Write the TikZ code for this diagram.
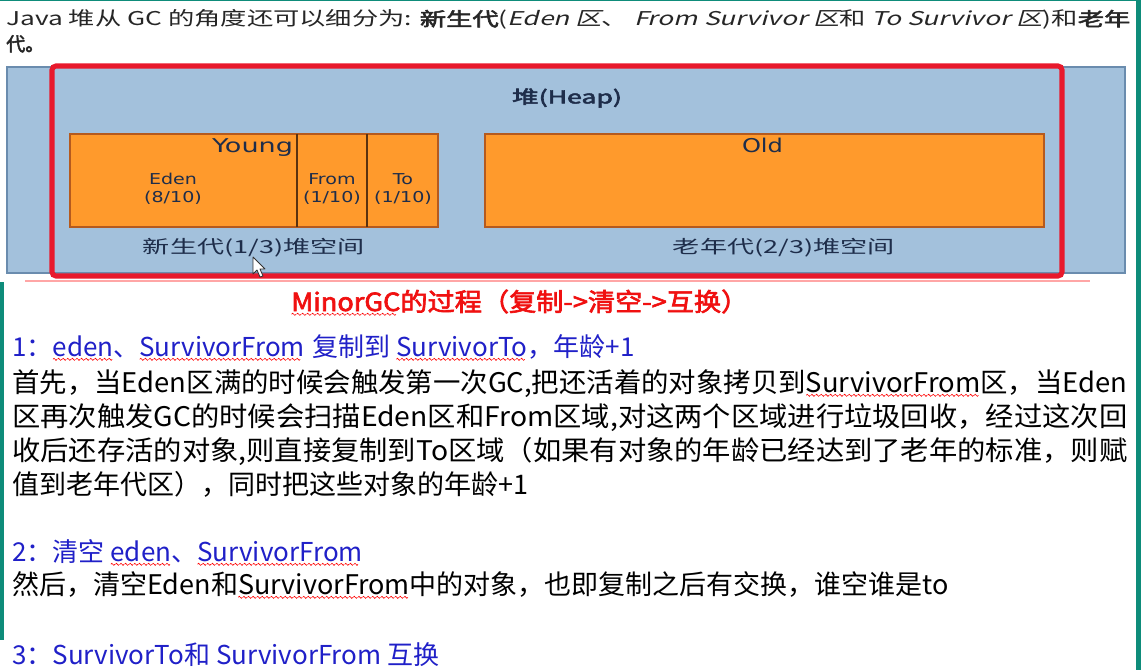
\documentclass[tikz,border=0pt]{standalone}
\usepackage{fontspec}
\usepackage{graphicx}
\setmainfont{Noto Sans CJK SC}[AutoFakeBold=2.5,AutoFakeSlant=0.2]
\newfontfamily\latinlbl{DejaVu Sans}[FakeStretch=1.27]
\definecolor{heapblue}{HTML}{A3C1DC}
\definecolor{heapedge}{HTML}{6A8CAE}
\definecolor{orng}{HTML}{FF9A2C}
\definecolor{orngedge}{HTML}{B55A1E}
\definecolor{divider}{HTML}{5A3210}
\definecolor{navy}{HTML}{1E2D4A}
\definecolor{redbox}{HTML}{E8192C}
\definecolor{bluetxt}{HTML}{2020C8}
\definecolor{redtxt}{HTML}{F01010}
\definecolor{tealbar}{HTML}{0E8C7A}
\newcommand\pxsize[1]{\fontsize{\dimexpr#1pt*3/4\relax}{\dimexpr#1pt*3/4\relax}\selectfont}
\newcommand\fitw[2]{\resizebox{\dimexpr#1pt*3/4\relax}{\height}{#2}}
\newsavebox\wavebox
\newcommand\rwave[1]{\setbox0\hbox{#1}\rlap{\raisebox{-3.5pt}{\leaders\copy\wavebox\hskip\wd0}}\box0}
\tikzset{
  heap/.style={fill=heapblue,draw=heapedge,line width=1.1pt},
  gen/.style={fill=orng,draw=orngedge,line width=1.1pt},
  lbl/.style={text=navy,inner sep=0pt},
  cell/.style={text=navy,inner sep=0pt,align=center,font=\latinlbl\pxsize{15}},
  para/.style={anchor=base west,inner sep=0pt,text=black},
  bluehead/.style={anchor=base west,inner sep=0pt,text=bluetxt},
}
\begin{document}
\sbox\wavebox{\begin{pgfpicture}\pgfsetlinewidth{0.45pt}\pgfsetstrokecolor{red}%
\pgfpathmoveto{\pgfpoint{0pt}{0pt}}%
\pgfpathsine{\pgfpoint{0.75pt}{0.8pt}}%
\pgfpathcosine{\pgfpoint{0.75pt}{-0.8pt}}%
\pgfpathsine{\pgfpoint{0.75pt}{-0.8pt}}%
\pgfpathcosine{\pgfpoint{0.75pt}{0.8pt}}%
\pgfusepath{stroke}\end{pgfpicture}}%
\begin{tikzpicture}[x=0.75pt,y=-0.75pt]
\useasboundingbox (0,0) rectangle (1141,670);
\fill[white] (0,0) rectangle (1141,670);
% window edges
\fill[tealbar] (0,0) rectangle (1141,1.2);
\fill[tealbar] (0,282) rectangle (3.5,640);
\fill[tealbar] (1136,0) rectangle (1141,670);
\draw[red!35,line width=0.8pt] (25,281) -- (1090,281);
% top text
\node[para,text=black!85] (intro1) at (6,26) {\pxsize{19}\fitw{1124}{Java 堆从 GC 的角度还可以细分为: \textbf{新生代}(\textit{Eden 区}、 \textit{From Survivor 区}和 \textit{To Survivor 区})和\textbf{老年}}};
\node[para,text=black!85] (intro2) at (6,51) {\pxsize{19}\textbf{代。}};
% heap
\draw[heap] (7,67) rectangle (1125,273);
\draw[redbox,line width=3.8pt,rounded corners=3pt] (52,66) rectangle (1062,276);
\draw[gen] (70,134) rectangle (438,227);
\draw[gen] (485,134) rectangle (1044,227);
\draw[divider,line width=1.8pt] (297,134) -- (297,227);
\draw[divider,line width=1.8pt] (367,134) -- (367,227);
\node[lbl] (heaplbl) at (567,98) {\pxsize{18}\fitw{110}{\textbf{堆(Heap)}}};
\node[lbl,anchor=base] (young) at (252.5,153) {\latinlbl\pxsize{19}\fitw{81}{Young}};
\node[cell] (eden) at (173,189) {Eden\\[2pt](8/10)};
\node[cell] (from) at (332,189) {From\\[2pt](1/10)};
\node[cell] (to) at (403,189) {To\\[2pt](1/10)};
\node[lbl,anchor=base] (old) at (762.5,153) {\latinlbl\pxsize{19}\fitw{41}{Old}};
\node[lbl] (younglbl) at (254,248) {\pxsize{18}\fitw{222}{新生代(1/3)堆空间}};
\node[lbl] (oldlbl) at (784,248) {\pxsize{18}\fitw{222}{老年代(2/3)堆空间}};
% mouse pointer
\draw[black!80,fill=white,line width=0.6pt,line join=round]
  (253,257) -- (253,274) -- (257,270) -- (260,277) -- (263,276) -- (260,269) -- (265,269) -- cycle;
% MinorGC text
\node[para,text=redtxt] (title) at (291,311) {\pxsize{25}\fitw{457}{\textbf{\rwave{MinorGC}的过程（复制->清空->互换）}}};
\node[bluehead] (step1) at (12,356) {\pxsize{26}1：\rwave{eden}、\rwave{SurvivorFrom}\hspace{0.28em}复制到 \rwave{SurvivorTo}，年龄+1};
\node[para] (p1) at (12,392) {\pxsize{27}\fitw{1115}{首先，当Eden区满的时候会触发第一次GC,把还活着的对象拷贝到\rwave{SurvivorFrom}区，当Eden}};
\node[para] (p2) at (12,426) {\pxsize{27}\fitw{1115}{区再次触发GC的时候会扫描Eden区和From区域,对这两个区域进行垃圾回收，经过这次回}};
\node[para] (p3) at (12,460) {\pxsize{27}\fitw{1115}{收后还存活的对象,则直接复制到To区域（如果有对象的年龄已经达到了老年的标准，则赋}};
\node[para] (p4) at (12,494) {\pxsize{27}值到老年代区），同时把这些对象的年龄+1};
\node[bluehead] (step2) at (12,561) {\pxsize{26}2：清空 \rwave{eden}、\rwave{SurvivorFrom}};
\node[para] (p5) at (12,594) {\pxsize{27}然后，清空Eden和\rwave{SurvivorFrom}中的对象，也即复制之后有交换，谁空谁是to};
\node[bluehead] (step3) at (12,664) {\pxsize{26}3：SurvivorTo和 SurvivorFrom 互换};
\end{tikzpicture}
\end{document}
